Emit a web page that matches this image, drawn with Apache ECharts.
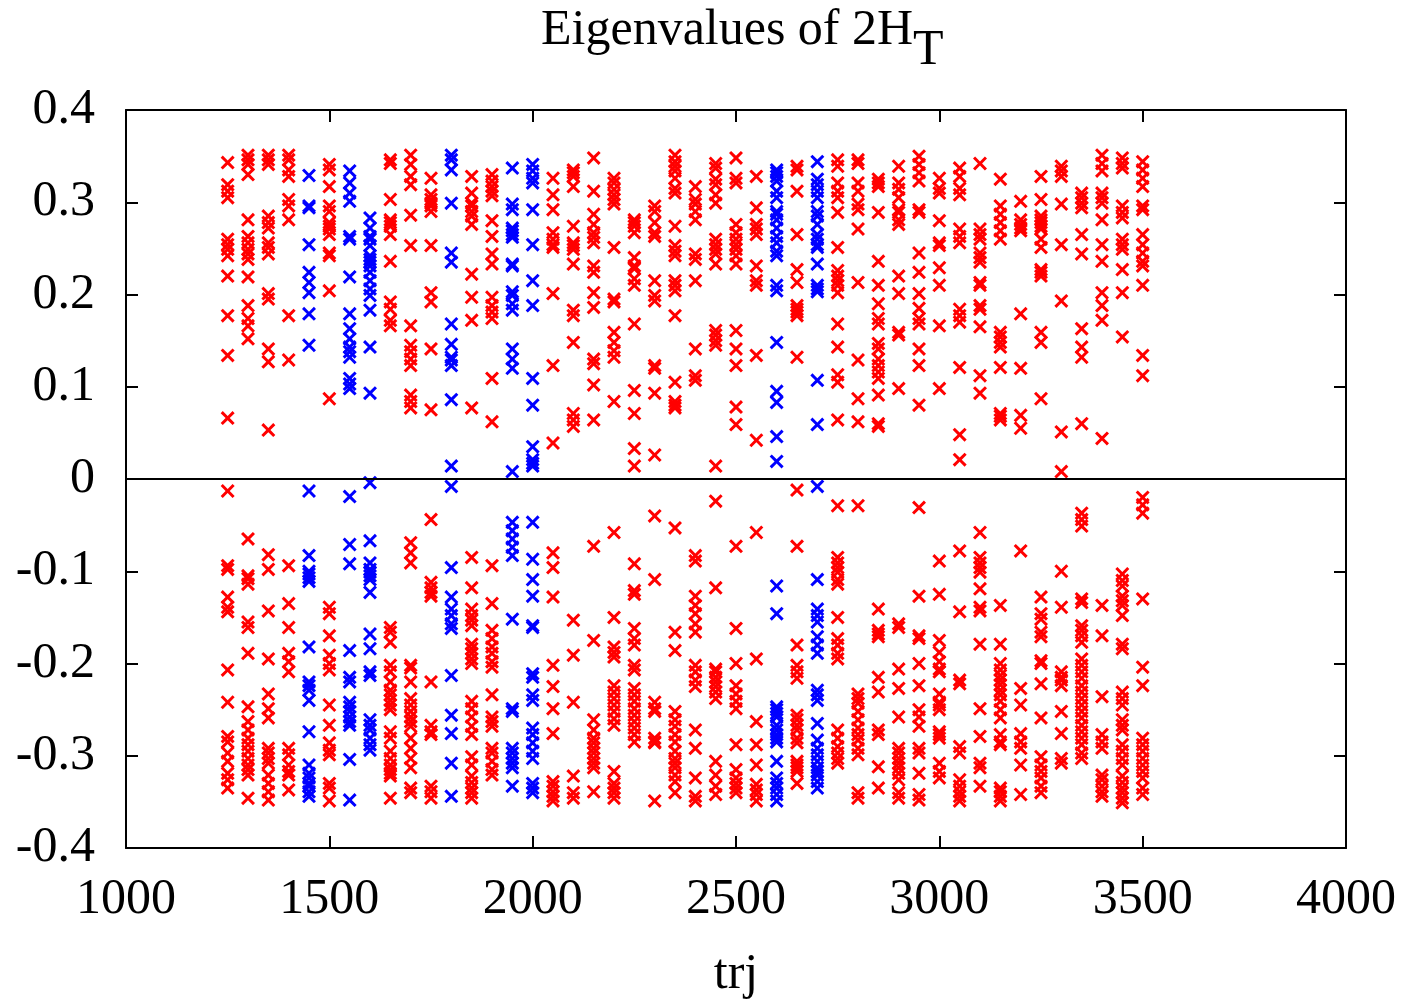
<!DOCTYPE html>
<html lang="en">
<head>
  <meta charset="UTF-8">
  <title>Eigenvalues of 2H_T</title>
  <style>
    html, body { margin: 0; padding: 0; background: #fff; overflow: hidden; }
    #chart { width: 100vw; height: 100vh; }
  </style>
</head>
<body>
<div id="chart"></div>
<script src="https://cdn.jsdelivr.net/npm/echarts@6/dist/echarts.min.js"></script>
<script>
  // trajectory numbers (x) and which columns are drawn in blue
  const trj = [1250,1300,1350,1400,1450,1500,1550,1600,1650,1700,1750,1800,1850,1900,1950,2000,
    2050,2100,2150,2200,2250,2300,2350,2400,2450,2500,2550,2600,2650,2700,2750,2800,2850,2900,
    2950,3000,3050,3100,3150,3200,3250,3300,3350,3400,3450,3500];
  const blueTrj = [1450,1550,1600,1800,1950,2000,2600,2700];

  // eigenvalues, one list per trajectory
  const t1250 = [0.343,0.319,0.312,0.305,0.260,0.254,0.249,0.242,0.220,0.177,0.134,0.066,-0.013,-0.094,-0.098,-0.128,-0.139,-0.144,-0.207,-0.242,-0.279,-0.285,-0.297,-0.306,-0.319,-0.326,-0.335];
  const t1300 = [0.351,0.346,0.341,0.330,0.281,0.263,0.256,0.249,0.244,0.238,0.219,0.188,0.174,0.166,0.152,-0.065,-0.105,-0.108,-0.114,-0.155,-0.161,-0.189,-0.247,-0.263,-0.272,-0.281,-0.288,-0.295,-0.303,-0.310,-0.315,-0.321,-0.346];
  const t1350 = [0.351,0.346,0.341,0.285,0.278,0.272,0.256,0.251,0.244,0.201,0.195,0.141,0.127,0.053,-0.082,-0.098,-0.143,-0.195,-0.233,-0.249,-0.259,-0.292,-0.297,-0.303,-0.308,-0.321,-0.330,-0.339,-0.348];
  const t1400 = [0.351,0.346,0.335,0.328,0.303,0.296,0.281,0.177,0.129,-0.094,-0.135,-0.161,-0.189,-0.198,-0.209,-0.292,-0.299,-0.310,-0.317,-0.321,-0.337];
  const t1450 = [0.329,0.296,0.294,0.254,0.224,0.213,0.202,0.179,0.145,-0.013,-0.083,-0.100,-0.103,-0.107,-0.111,-0.182,-0.220,-0.224,-0.229,-0.240,-0.274,-0.310,-0.319,-0.324,-0.330,-0.333,-0.339,-0.344];
  const t1500 = [0.341,0.335,0.317,0.296,0.290,0.278,0.274,0.271,0.265,0.245,0.242,0.204,0.087,-0.139,-0.146,-0.170,-0.191,-0.200,-0.207,-0.245,-0.267,-0.286,-0.294,-0.299,-0.330,-0.335,-0.349];
  const t1550 = [0.334,0.321,0.310,0.301,0.263,0.260,0.219,0.179,0.163,0.152,0.143,0.138,0.132,0.109,0.103,0.098,-0.019,-0.071,-0.092,-0.186,-0.215,-0.220,-0.242,-0.247,-0.252,-0.258,-0.263,-0.267,-0.304,-0.348];
  const t1600 = [0.283,0.272,0.263,0.260,0.253,0.242,0.238,0.235,0.231,0.224,0.215,0.206,0.199,0.183,0.143,0.093,-0.004,-0.067,-0.091,-0.098,-0.101,-0.105,-0.109,-0.123,-0.168,-0.184,-0.209,-0.213,-0.261,-0.267,-0.272,-0.281,-0.288,-0.294];
  const t1650 = [0.346,0.342,0.303,0.281,0.278,0.274,0.265,0.236,0.192,0.184,0.172,0.166,-0.161,-0.166,-0.177,-0.202,-0.209,-0.220,-0.229,-0.234,-0.240,-0.245,-0.250,-0.274,-0.281,-0.295,-0.303,-0.310,-0.315,-0.319,-0.322,-0.346];
  const t1700 = [0.351,0.341,0.328,0.319,0.286,0.253,0.166,0.145,0.138,0.130,0.123,0.091,0.084,0.077,-0.069,-0.080,-0.091,-0.202,-0.205,-0.220,-0.238,-0.245,-0.252,-0.258,-0.263,-0.268,-0.281,-0.292,-0.303,-0.313,-0.335,-0.340];
  const t1750 = [0.326,0.308,0.303,0.299,0.296,0.290,0.253,0.202,0.192,0.141,0.075,-0.044,-0.112,-0.118,-0.123,-0.127,-0.220,-0.267,-0.274,-0.277,-0.333,-0.339,-0.346];
  const t1800 = [0.351,0.346,0.335,0.299,0.245,0.235,0.168,0.146,0.132,0.129,0.123,0.086,0.014,-0.008,-0.096,-0.128,-0.141,-0.148,-0.157,-0.162,-0.213,-0.256,-0.276,-0.308,-0.344];
  const t1850 = [0.328,0.310,0.299,0.296,0.290,0.285,0.276,0.222,0.197,0.172,0.077,-0.085,-0.118,-0.141,-0.148,-0.153,-0.159,-0.179,-0.184,-0.189,-0.195,-0.200,-0.241,-0.249,-0.258,-0.268,-0.277,-0.301,-0.310,-0.322,-0.329,-0.335,-0.340,-0.346];
  const t1900 = [0.330,0.323,0.317,0.312,0.307,0.280,0.263,0.244,0.233,0.197,0.188,0.181,0.174,0.109,0.062,-0.094,-0.135,-0.164,-0.173,-0.182,-0.189,-0.198,-0.204,-0.234,-0.258,-0.263,-0.268,-0.292,-0.297,-0.306,-0.315,-0.321];
  const t1950 = [0.337,0.298,0.292,0.272,0.269,0.265,0.262,0.233,0.231,0.203,0.199,0.190,0.183,0.141,0.130,0.120,0.008,-0.047,-0.056,-0.065,-0.074,-0.083,-0.152,-0.249,-0.252,-0.292,-0.297,-0.303,-0.308,-0.313,-0.333];
  const t2000 = [0.341,0.334,0.326,0.321,0.292,0.254,0.215,0.188,0.109,0.080,0.035,0.021,0.017,0.014,-0.047,-0.087,-0.109,-0.127,-0.159,-0.161,-0.211,-0.215,-0.234,-0.240,-0.270,-0.277,-0.286,-0.295,-0.303,-0.330,-0.335,-0.340];
  const t2050 = [0.326,0.308,0.292,0.267,0.260,0.254,0.251,0.201,0.123,0.039,-0.080,-0.096,-0.128,-0.202,-0.225,-0.249,-0.276,-0.328,-0.333,-0.339,-0.344,-0.349];
  const t2100 = [0.335,0.332,0.328,0.317,0.274,0.256,0.253,0.249,0.233,0.183,0.177,0.148,0.071,0.064,0.057,-0.153,-0.191,-0.242,-0.322,-0.340,-0.346];
  const t2150 = [0.348,0.312,0.287,0.276,0.267,0.262,0.256,0.231,0.224,0.202,0.186,0.130,0.125,0.102,0.064,-0.073,-0.175,-0.261,-0.272,-0.281,-0.286,-0.292,-0.297,-0.303,-0.308,-0.313,-0.339];
  const t2200 = [0.326,0.321,0.314,0.308,0.303,0.298,0.251,0.195,0.192,0.159,0.148,0.139,0.132,0.084,-0.058,-0.150,-0.182,-0.188,-0.193,-0.224,-0.231,-0.238,-0.245,-0.252,-0.260,-0.267,-0.317,-0.330,-0.335,-0.340,-0.346];
  const t2250 = [0.281,0.278,0.274,0.267,0.240,0.231,0.228,0.217,0.210,0.168,0.096,0.071,0.033,0.014,-0.092,-0.121,-0.125,-0.162,-0.173,-0.180,-0.202,-0.207,-0.227,-0.234,-0.241,-0.249,-0.256,-0.263,-0.270,-0.277,-0.285];
  const t2300 = [0.296,0.290,0.278,0.267,0.263,0.215,0.199,0.193,0.123,0.120,0.093,0.026,-0.040,-0.109,-0.242,-0.249,-0.252,-0.281,-0.285,-0.286,-0.349];
  const t2350 = [0.351,0.344,0.339,0.334,0.326,0.315,0.310,0.274,0.253,0.247,0.242,0.215,0.210,0.204,0.177,0.105,0.084,0.080,0.077,-0.053,-0.166,-0.186,-0.252,-0.261,-0.268,-0.277,-0.285,-0.295,-0.303,-0.308,-0.313,-0.321,-0.328,-0.340];
  const t2400 = [0.317,0.303,0.298,0.290,0.281,0.244,0.238,0.215,0.141,0.112,0.107,-0.083,-0.089,-0.127,-0.137,-0.146,-0.157,-0.166,-0.202,-0.209,-0.218,-0.225,-0.272,-0.292,-0.324,-0.344,-0.349];
  const t2450 = [0.342,0.337,0.325,0.319,0.308,0.299,0.260,0.254,0.249,0.244,0.233,0.161,0.156,0.150,0.145,0.014,-0.024,-0.118,-0.206,-0.209,-0.215,-0.220,-0.225,-0.231,-0.238,-0.306,-0.321,-0.333,-0.342];
  const t2500 = [0.348,0.326,0.321,0.276,0.267,0.260,0.254,0.249,0.242,0.233,0.161,0.141,0.123,0.078,0.059,-0.073,-0.162,-0.200,-0.224,-0.233,-0.241,-0.249,-0.288,-0.315,-0.324,-0.330,-0.335,-0.340];
  const t2550 = [0.328,0.294,0.276,0.271,0.265,0.231,0.215,0.210,0.134,0.042,-0.058,-0.195,-0.263,-0.288,-0.310,-0.331,-0.337,-0.342,-0.349];
  const t2600 = [0.335,0.332,0.328,0.323,0.312,0.305,0.290,0.287,0.281,0.272,0.263,0.256,0.247,0.242,0.210,0.204,0.148,0.095,0.083,0.046,0.019,-0.116,-0.146,-0.247,-0.250,-0.254,-0.258,-0.267,-0.272,-0.277,-0.281,-0.285,-0.306,-0.324,-0.330,-0.335,-0.342,-0.349];
  const t2650 = [0.339,0.335,0.312,0.265,0.227,0.213,0.188,0.184,0.181,0.177,0.132,-0.012,-0.073,-0.180,-0.202,-0.209,-0.216,-0.256,-0.261,-0.267,-0.272,-0.281,-0.286,-0.306,-0.310,-0.313,-0.317,-0.330];
  const t2700 = [0.344,0.325,0.319,0.312,0.305,0.290,0.285,0.276,0.265,0.260,0.254,0.251,0.233,0.210,0.206,0.203,0.107,0.059,-0.008,-0.109,-0.141,-0.148,-0.155,-0.171,-0.180,-0.189,-0.229,-0.234,-0.240,-0.265,-0.283,-0.292,-0.299,-0.306,-0.313,-0.317,-0.321,-0.328,-0.335];
  const t2750 = [0.346,0.339,0.321,0.312,0.305,0.289,0.251,0.226,0.220,0.215,0.210,0.202,0.168,0.143,0.113,0.105,0.064,-0.029,-0.085,-0.091,-0.096,-0.101,-0.109,-0.114,-0.150,-0.173,-0.180,-0.189,-0.195,-0.272,-0.281,-0.290,-0.297,-0.303,-0.308];
  const t2800 = [0.346,0.342,0.321,0.312,0.298,0.292,0.271,0.213,0.129,0.087,0.062,-0.029,-0.233,-0.238,-0.243,-0.252,-0.261,-0.270,-0.277,-0.283,-0.292,-0.299,-0.340,-0.346];
  const t2850 = [0.325,0.321,0.317,0.289,0.236,0.210,0.190,0.174,0.168,0.147,0.141,0.130,0.123,0.116,0.109,0.091,0.060,0.057,-0.141,-0.164,-0.168,-0.171,-0.215,-0.231,-0.272,-0.277,-0.312,-0.335];
  const t2900 = [0.339,0.321,0.314,0.305,0.292,0.289,0.281,0.276,0.220,0.201,0.159,0.156,0.098,-0.157,-0.161,-0.206,-0.227,-0.258,-0.292,-0.297,-0.303,-0.308,-0.313,-0.319,-0.326,-0.340,-0.346];
  const t2950 = [0.350,0.341,0.332,0.323,0.292,0.289,0.245,0.224,0.201,0.185,0.174,0.168,0.141,0.123,0.080,-0.031,-0.127,-0.170,-0.173,-0.200,-0.224,-0.250,-0.258,-0.268,-0.292,-0.297,-0.319,-0.342,-0.348];
  const t3000 = [0.326,0.315,0.310,0.280,0.256,0.253,0.229,0.210,0.166,0.098,-0.089,-0.125,-0.175,-0.188,-0.198,-0.206,-0.209,-0.233,-0.242,-0.245,-0.250,-0.274,-0.277,-0.281,-0.308,-0.317,-0.324];
  const t3050 = [0.337,0.328,0.315,0.308,0.271,0.263,0.256,0.184,0.177,0.170,0.121,0.048,0.021,-0.078,-0.144,-0.218,-0.222,-0.290,-0.297,-0.326,-0.333,-0.339,-0.344,-0.349];
  const t3100 = [0.342,0.271,0.265,0.260,0.245,0.240,0.235,0.213,0.210,0.188,0.184,0.165,0.112,0.093,-0.058,-0.085,-0.091,-0.096,-0.101,-0.119,-0.139,-0.143,-0.179,-0.249,-0.279,-0.308,-0.313,-0.333];
  const t3150 = [0.325,0.296,0.287,0.278,0.269,0.260,0.159,0.154,0.148,0.143,0.121,0.071,0.068,0.064,-0.137,-0.179,-0.200,-0.207,-0.213,-0.218,-0.223,-0.229,-0.234,-0.241,-0.250,-0.259,-0.277,-0.285,-0.288,-0.335,-0.339,-0.344,-0.349];
  const t3200 = [0.301,0.281,0.276,0.272,0.269,0.179,0.120,0.069,0.055,-0.078,-0.227,-0.245,-0.276,-0.285,-0.292,-0.310,-0.342];
  const t3250 = [0.328,0.303,0.285,0.281,0.278,0.274,0.271,0.260,0.251,0.227,0.224,0.220,0.159,0.148,0.087,-0.128,-0.146,-0.152,-0.166,-0.171,-0.197,-0.200,-0.222,-0.259,-0.301,-0.310,-0.317,-0.324,-0.333,-0.340];
  const t3300 = [0.339,0.334,0.328,0.298,0.254,0.193,0.051,0.008,-0.100,-0.139,-0.209,-0.215,-0.218,-0.224,-0.252,-0.276,-0.303,-0.308];
  const t3350 = [0.310,0.305,0.299,0.294,0.265,0.244,0.163,0.143,0.132,0.060,-0.037,-0.044,-0.051,-0.130,-0.134,-0.159,-0.164,-0.170,-0.177,-0.195,-0.202,-0.209,-0.216,-0.224,-0.231,-0.238,-0.245,-0.252,-0.259,-0.267,-0.274,-0.281,-0.288,-0.297,-0.303];
  const t3400 = [0.351,0.342,0.334,0.310,0.305,0.299,0.281,0.254,0.236,0.202,0.188,0.172,0.044,-0.137,-0.170,-0.236,-0.277,-0.285,-0.292,-0.321,-0.326,-0.333,-0.339,-0.344];
  const t3450 = [0.348,0.342,0.337,0.296,0.289,0.283,0.260,0.254,0.249,0.227,0.202,0.154,-0.103,-0.110,-0.116,-0.127,-0.132,-0.137,-0.148,-0.179,-0.184,-0.231,-0.238,-0.245,-0.261,-0.267,-0.272,-0.288,-0.295,-0.303,-0.310,-0.322,-0.329,-0.335,-0.340,-0.346,-0.351];
  const t3500 = [0.344,0.335,0.326,0.317,0.296,0.292,0.265,0.254,0.245,0.236,0.231,0.210,0.134,0.112,-0.020,-0.028,-0.037,-0.130,-0.204,-0.224,-0.281,-0.288,-0.295,-0.303,-0.310,-0.317,-0.324,-0.335,-0.342];

  const eig = [t1250,t1300,t1350,t1400,t1450,t1500,t1550,t1600,t1650,t1700,t1750,t1800,t1850,t1900,
    t1950,t2000,t2050,t2100,t2150,t2200,t2250,t2300,t2350,t2400,t2450,t2500,t2550,t2600,t2650,
    t2700,t2750,t2800,t2850,t2900,t2950,t3000,t3050,t3100,t3150,t3200,t3250,t3300,t3350,t3400,
    t3450,t3500];

  const yTicks = [-0.4,-0.3,-0.2,-0.1,0,0.1,0.2,0.3,0.4];

  // split into red / blue point lists
  const redPts = [];
  const bluePts = [];
  trj.forEach((t, i) => {
    const target = blueTrj.includes(t) ? bluePts : redPts;
    eig[i].forEach(v => target.push([t, v]));
  });

  const serif = '"Liberation Serif", "DejaVu Serif", serif';
  // gnuplot style "x" marker
  const cross = 'path://M0,3 L3,0 L10,7 L17,0 L20,3 L13,10 L20,17 L17,20 L10,13 L3,20 L0,17 L7,10 Z';

  const chart = echarts.init(document.getElementById('chart'));

  const axisLine = { show: true, onZero: false, lineStyle: { color: '#000', width: 2 } };
  const tick = { show: true, inside: true, length: 12, lineStyle: { color: '#000', width: 2 } };

  chart.setOption({
    backgroundColor: '#fff',
    animation: false,
    title: {
      text: '{a|Eigenvalues of 2H}{b|T}',
      left: 536,
      top: -19,
      textStyle: {
        rich: {
          a: { fontFamily: serif, fontSize: 50, fontWeight: 'normal', color: '#000' },
          b: { fontFamily: serif, fontSize: 50, fontWeight: 'normal', color: '#000', padding: [40, 0, 0, 0] }
        }
      }
    },
    grid: { left: 126, right: 62, top: 110, bottom: 153, containLabel: false },
    xAxis: [
      {
        type: 'value', min: 1000, max: 4000, interval: 500, position: 'bottom',
        name: 'trj', nameLocation: 'middle', nameGap: 102,
        nameTextStyle: { fontFamily: serif, fontSize: 50, color: '#000' },
        axisLine: axisLine, axisTick: tick, splitLine: { show: false },
        axisLabel: { fontFamily: serif, fontSize: 50, color: '#000', margin: 27, formatter: v => String(v) }
      },
      {
        type: 'value', min: 1000, max: 4000, interval: 500, position: 'top',
        axisLine: axisLine, axisTick: tick, splitLine: { show: false },
        axisLabel: { show: false }
      }
    ],
    yAxis: [
      {
        type: 'value', min: yTicks[0], max: yTicks[yTicks.length - 1], interval: 0.1, position: 'left',
        axisLine: axisLine, axisTick: tick, splitLine: { show: false },
        axisLabel: {
          fontFamily: serif, fontSize: 50, color: '#000', margin: 31,
          formatter: v => String(Math.round(v * 10) / 10)
        }
      },
      {
        type: 'value', min: yTicks[0], max: yTicks[yTicks.length - 1], interval: 0.1, position: 'right',
        axisLine: axisLine, axisTick: tick, splitLine: { show: false },
        axisLabel: { show: false }
      }
    ],
    series: [
      {
        type: 'scatter', data: redPts, symbol: cross, symbolSize: 14,
        itemStyle: { color: '#ff0000', opacity: 1 },
        markLine: {
          silent: true, symbol: 'none', label: { show: false },
          lineStyle: { color: '#000', width: 2, type: 'solid' },
          data: [{ yAxis: 0 }]
        }
      },
      {
        type: 'scatter', data: bluePts, symbol: cross, symbolSize: 14,
        itemStyle: { color: '#0000ff', opacity: 1 }
      }
    ]
  });
</script>
</body>
</html>
